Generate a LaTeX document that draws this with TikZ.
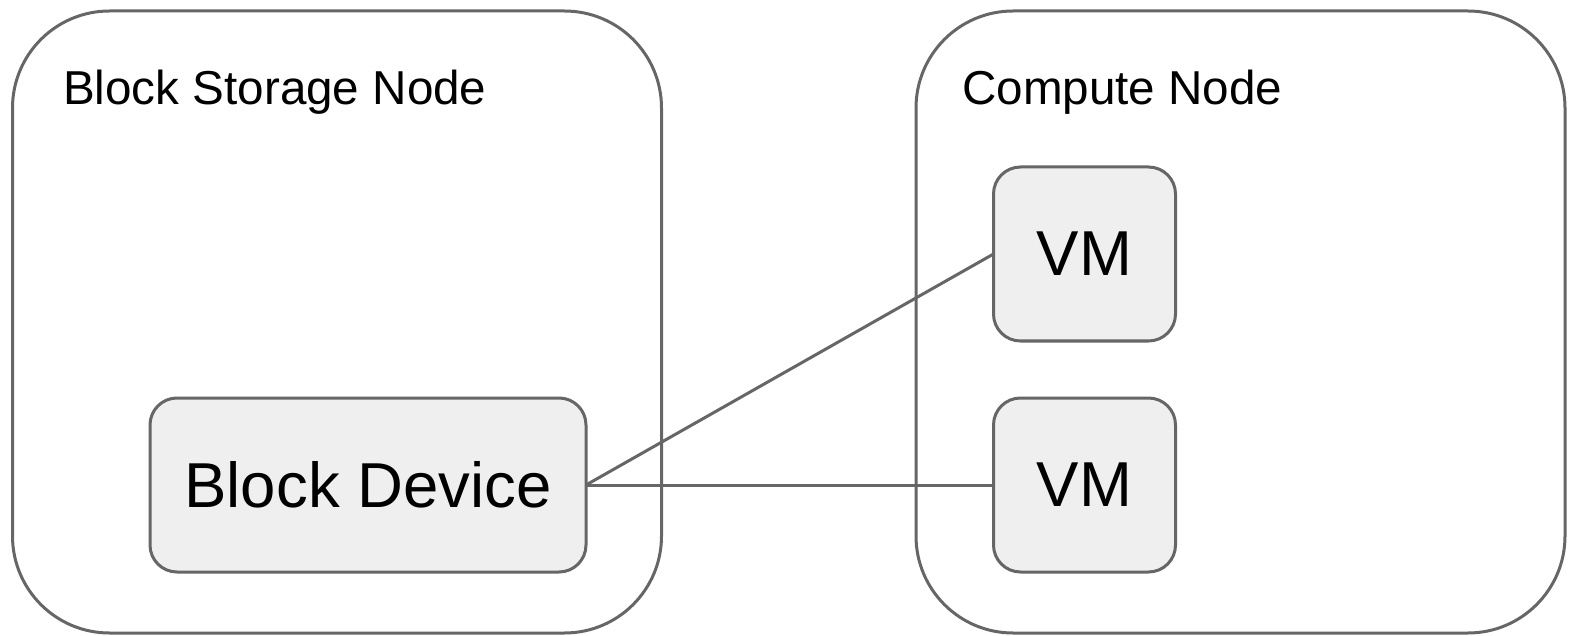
\documentclass[tikz,border=0pt]{standalone}
\usepackage{fontspec}
\setmainfont{Liberation Sans}
\definecolor{edge}{HTML}{666666}
\definecolor{boxfill}{HTML}{EFEFEF}
\begin{document}
\begin{tikzpicture}[x=1pt,y=-1pt,
  hostbox/.style={draw=edge, line width=3pt, rounded corners=97pt, inner sep=0pt, outer sep=0pt,
    minimum width=649pt, minimum height=622pt},
  unitbox/.style={draw=edge, fill=boxfill, line width=3pt, rounded corners=27pt, inner sep=0pt, outer sep=0pt,
    minimum height=174pt, font=\fontsize{63.5}{76}\selectfont},
  hostlabel/.style={anchor=base west, inner sep=0pt, font=\fontsize{47.6}{57}\selectfont},
  link/.style={draw=edge, line width=3pt}]
  \useasboundingbox (0,0) rectangle (1569,636);

  % hosts
  \node[hostbox] (storage) at (337,322) {};
  \node[hostbox] (compute) at (1240.5,322) {};
  \node[hostlabel] (storagelabel) at (63,105) {Block Storage Node};
  \node[hostlabel] (computelabel) at (962,105) {Compute Node};

  % block device and virtual machines
  \node[unitbox, minimum width=436pt] (bd) at (368,485) {Block Device};
  \node[unitbox, minimum width=182pt] (vm1) at (1084.5,254) {VM};
  \node[unitbox, minimum width=182pt] (vm2) at (1084.5,485) {VM};

  % attachments
  \draw[link] (bd.east) -- (vm1.west);
  \draw[link] (bd.east) -- (vm2.west);
\end{tikzpicture}
\end{document}
